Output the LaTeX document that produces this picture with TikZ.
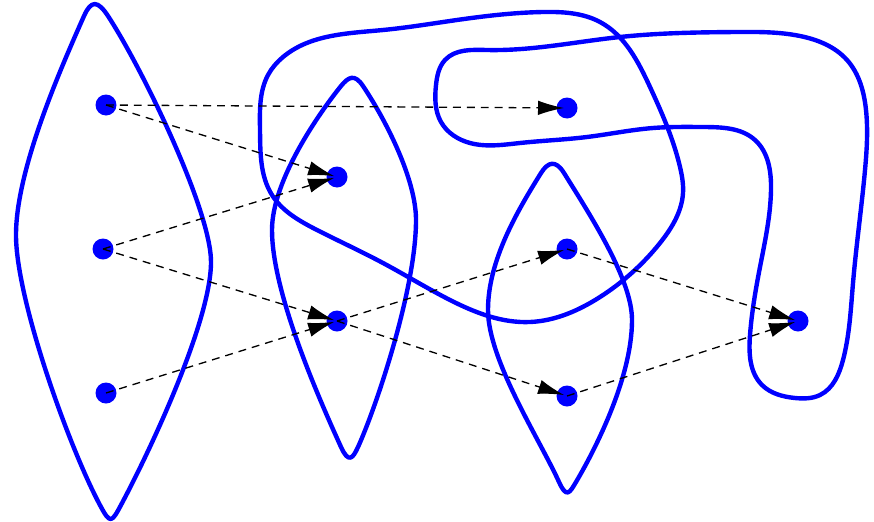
\documentclass[tikz,border=0pt]{standalone}
\usepackage{tikz}
\usetikzlibrary{arrows.meta, hobby}

\begin{document}
\begin{tikzpicture}[
    x=0.02cm, y=-0.02cm,
    vertex/.style={circle, fill=blue, inner sep=0pt, minimum size=0.42cm},
    link/.style={-{Latex[length=0.52cm, width=0.29cm]}, black, line width=0.75pt,
                 dash pattern=on 4.5pt off 3.4pt, shorten >=0.06cm},
    hyper/.style={blue, line width=2.5pt, line join=round}
]
\useasboundingbox (0,0) rectangle (874,521);
% hyperedges
\draw[hyper] (84,16) .. controls (91.2,-0.2) and (97.8,0.4) .. (108,16)
    .. controls (142,68) and (211,210) .. (211,262)
    .. controls (211,320) and (152,447) .. (121,505)
    .. controls (111.7,522.4) and (110.3,524.1) .. (101,507)
    .. controls (70,450) and (16,300) .. (16,235)
    .. controls (16,170) and (60,70) .. (84,16) -- cycle;
\draw[hyper] (341,86) .. controls (348.4,76.9) and (354.6,73.4) .. (363,86)
    .. controls (387,122) and (416,180) .. (416,220)
    .. controls (416,290) and (375,410) .. (358,447)
    .. controls (352.9,458.1) and (348.8,464.1) .. (341,447)
    .. controls (315,390) and (272,290) .. (272,230)
    .. controls (272,180) and (320,112) .. (341,86) -- cycle;
\draw[hyper] (541,173) .. controls (547.9,161.9) and (555.6,159.5) .. (564,173)
    .. controls (592,218) and (632,280) .. (632,320)
    .. controls (632,380) and (592,455) .. (576,482)
    .. controls (569.6,492.8) and (566.6,498.8) .. (559,482)
    .. controls (540,440) and (488,360) .. (488,310)
    .. controls (488,260) and (518,210) .. (541,173) -- cycle;
\draw[hyper] plot[closed hobby] coordinates {
    (283,57) (383,30) (450,21) (543,12) (600,22)
    (650,87) (680,167) (683,193) (660,243)
    (600,297) (530,322) (450,300) (383,263)
    (317,230) (272,195) (260,130) (268,75)};
\draw[hyper] plot[closed hobby] coordinates {
    (445,60) (487,50) (620,37) (737,32) (800,36) (847,60)
    (866,110) (865,170) (853,283) (843,360) (820,395) (795,398)
    (762,385) (750,335) (760,267) (771,190) (755,140)
    (703,127) (653,128) (587,137) (520,143) (470,143)
    (441,122) (436,85)};
% vertices
\node[vertex] (a1) at (106,105) {};
\node[vertex] (a2) at (103,249) {};
\node[vertex] (a3) at (106,393) {};
\node[vertex] (b1) at (337,177) {};
\node[vertex] (b2) at (337,321) {};
\node[vertex] (c1) at (567,108) {};
\node[vertex] (c2) at (567,249) {};
\node[vertex] (c3) at (567,396) {};
\node[vertex] (d1) at (798,321) {};
% arcs
\foreach \s/\t in {a1/c1, a1/b1, a2/b1, a2/b2, a3/b2, b2/c2, b2/c3, c2/d1, c3/d1} {
    \draw[link] (\s.center) -- (\t.center);
}
\end{tikzpicture}
\end{document}
